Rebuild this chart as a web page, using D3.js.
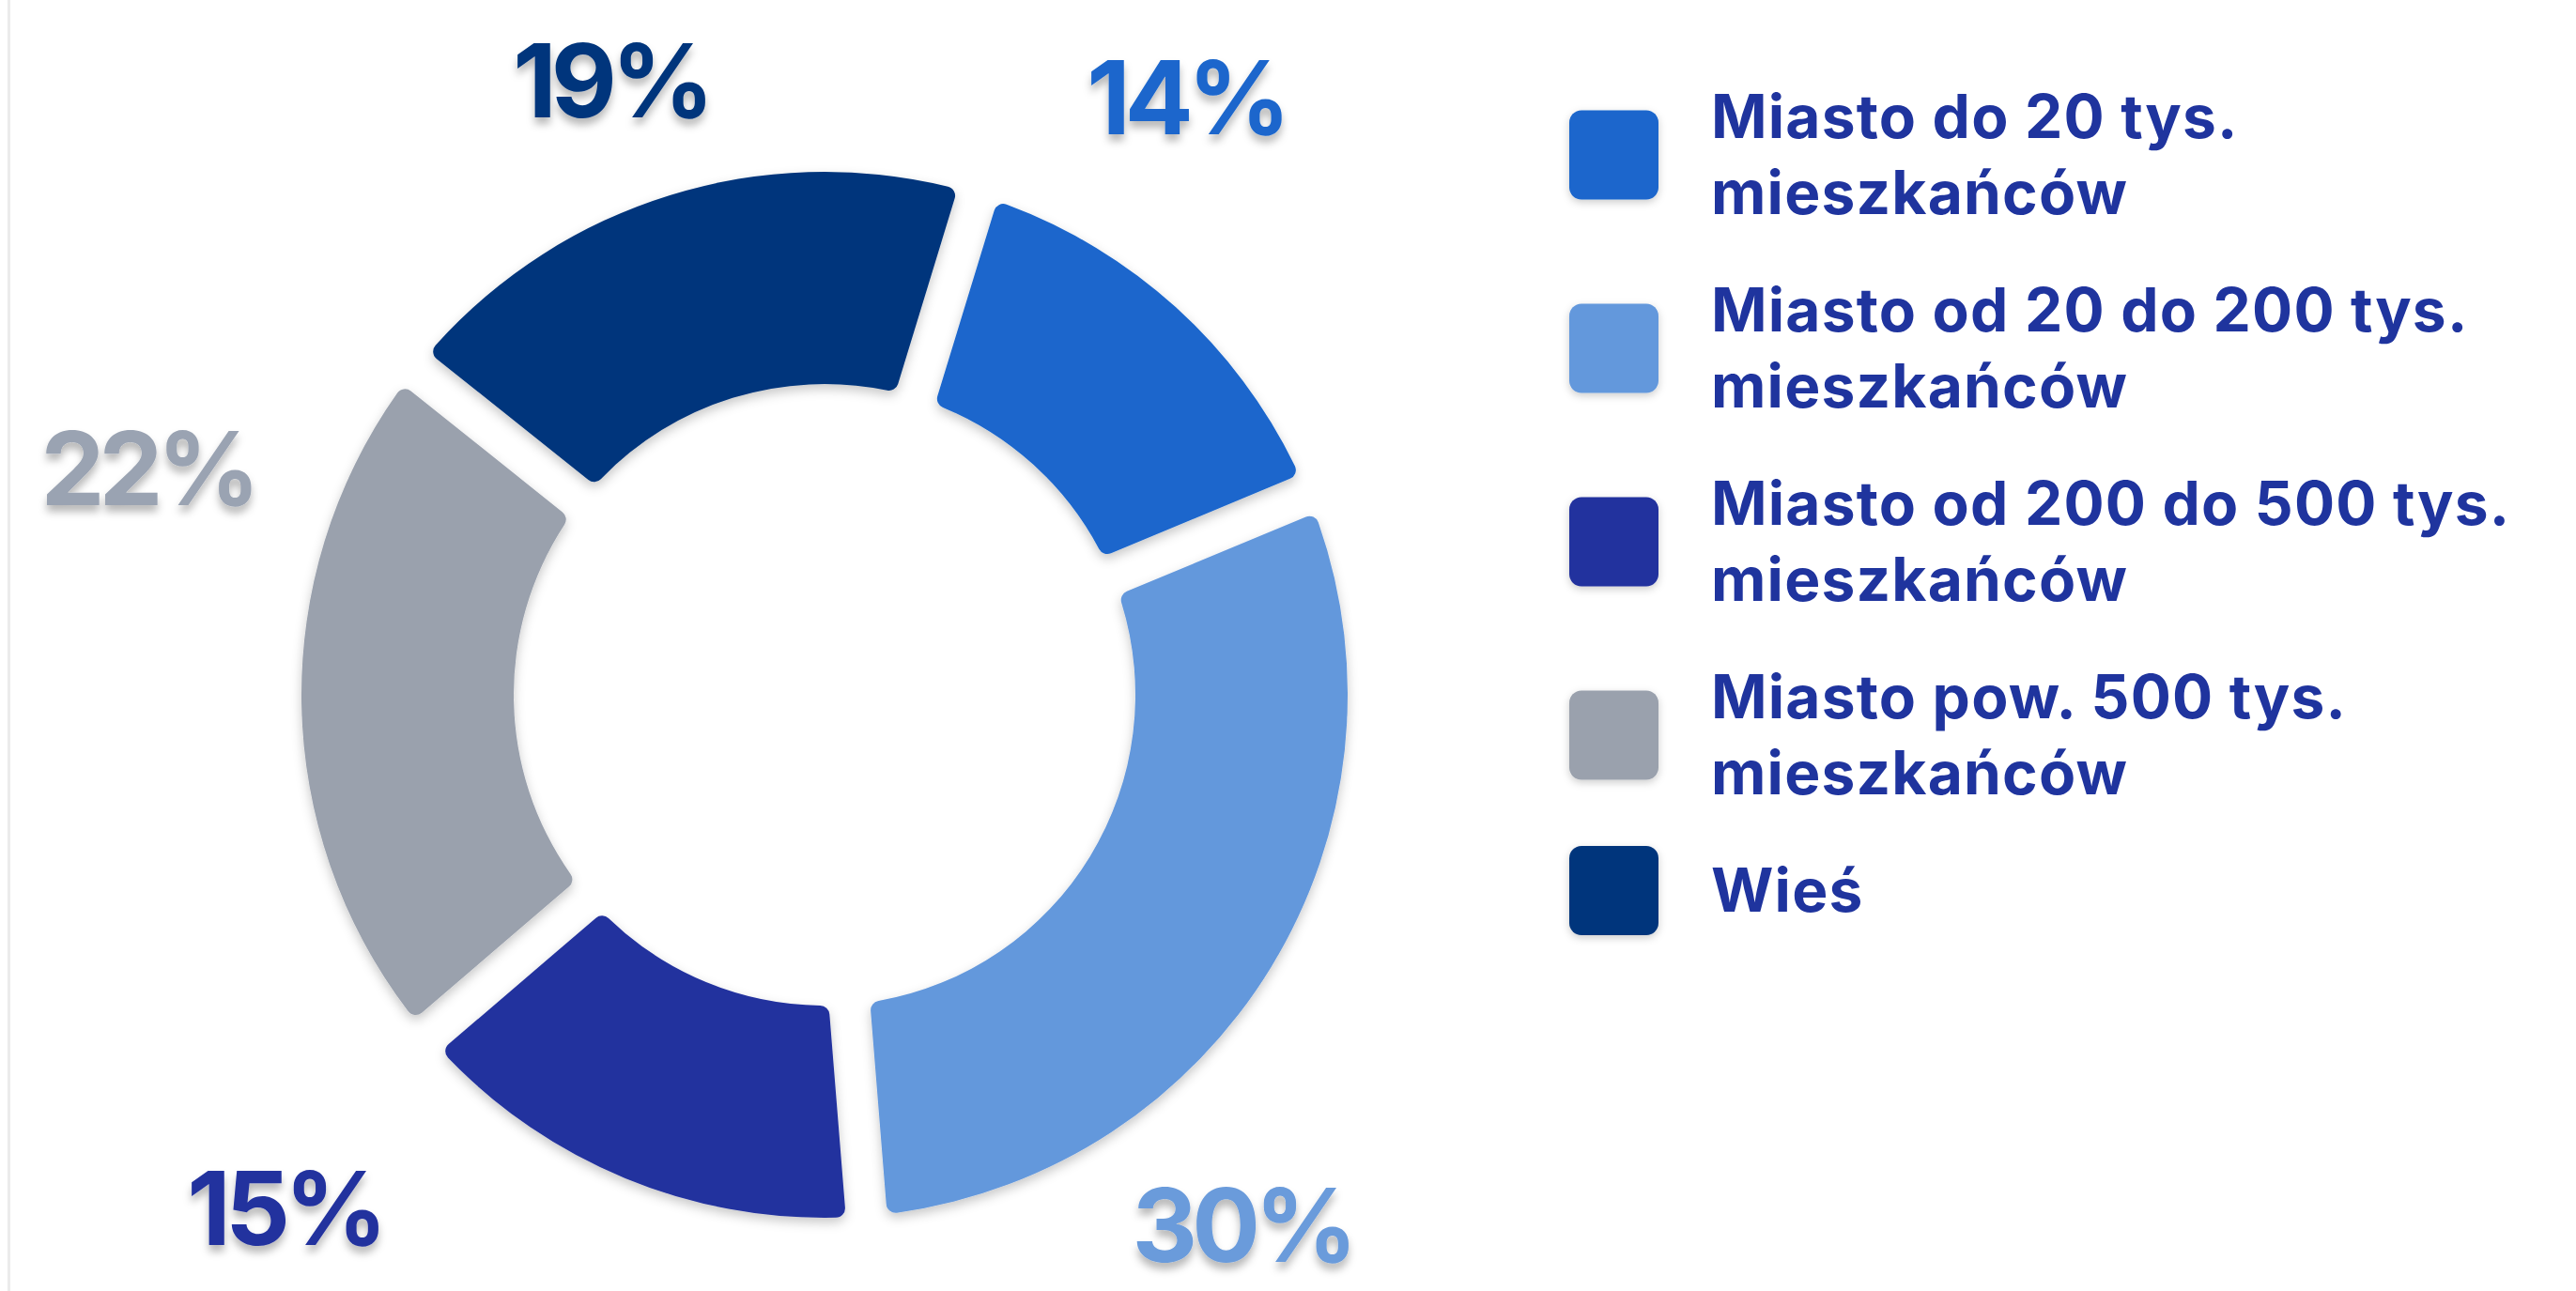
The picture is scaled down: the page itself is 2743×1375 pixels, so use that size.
<!DOCTYPE html>
<html lang="pl">
<head>
<meta charset="utf-8">
<title>Miejsce zamieszkania</title>
<script src="https://cdn.jsdelivr.net/npm/d3@7/dist/d3.min.js"></script>
<style>
  html, body { margin: 0; padding: 0; background: #ffffff; }
  svg { display: block; font-family: Inter, "Noto Sans", sans-serif; }
</style>
</head>
<body>
<svg id="chart" width="2743" height="1375"></svg>
<script>
// Categories, shares (percent) and colours
const categories = [
  "Miasto do 20 tys. mieszkańców",
  "Miasto od 20 do 200 tys. mieszkańców",
  "Miasto od 200 do 500 tys. mieszkańców",
  "Miasto pow. 500 tys. mieszkańców",
  "Wieś"
];
const shares = [14, 30, 15, 22, 19];
const colors = ["#1a66cc", "#6498dc", "#22319e", "#9aa1ad", "#04367b"];
const labelColors = ["#1a66cc", "#6a9bdb", "#22319e", "#9aa3b2", "#04367b"];

// Layout
const W = 2743, H = 1375;
const cx = 878, cy = 740;
const rOuter = 557, rInner = 331;
const startDeg = 17;
const gapPx = 44;
// value labels: angular shift from slice middle (deg) and distance from centre
const labelShiftDeg = [-11, 20.4, 24, 19.5, -2];
const labelRadius = [743, 719, 794, 760, 692];

const svg = d3.select("#chart");
const defs = svg.append("defs");

function shadow(id, dy, sd, op) {
  const f = defs.append("filter").attr("id", id)
    .attr("x", "-20%").attr("y", "-20%").attr("width", "140%").attr("height", "140%");
  f.append("feDropShadow").attr("dx", 0).attr("dy", dy)
    .attr("stdDeviation", sd).attr("flood-color", "#000").attr("flood-opacity", op);
}
shadow("sliceShadow", 5, 6, 0.22);
shadow("labelShadow", 7, 4, 0.28);
shadow("swatchShadow", 3, 4, 0.2);

svg.append("rect").attr("width", W).attr("height", H).attr("fill", "#ffffff");
svg.append("rect").attr("x", 8).attr("y", 0).attr("width", 3).attr("height", H).attr("fill", "#ebebeb");

const rad = Math.PI / 180;
const pie = d3.pie().sort(null).value(d => d.value)
  .startAngle(startDeg * rad).endAngle(startDeg * rad + 2 * Math.PI);

const data = categories.map((c, i) => ({ name: c, value: shares[i], i }));
const arcs = pie(data);

const arc = d3.arc()
  .innerRadius(rInner).outerRadius(rOuter)
  .cornerRadius(10)
  .padRadius(rOuter)
  .padAngle(gapPx / rOuter);

const g = svg.append("g").attr("transform", `translate(${cx},${cy})`);

g.selectAll("path.slice").data(arcs).join("path")
  .attr("class", "slice")
  .attr("d", arc)
  .attr("fill", d => colors[d.data.i])
  .attr("filter", "url(#sliceShadow)");

// value labels around the ring
g.selectAll("text.value").data(arcs).join("text")
  .attr("class", "value")
  .attr("transform", d => {
    const a = (d.startAngle + d.endAngle) / 2 + labelShiftDeg[d.data.i] * rad;
    const r = labelRadius[d.data.i];
    return `translate(${r * Math.sin(a)},${-r * Math.cos(a)})`;
  })
  .attr("text-anchor", "middle")
  .attr("dy", "0.36em")
  .attr("font-size", 108)
  .attr("font-weight", 700)
  .attr("letter-spacing", -6)
  .attr("fill", d => labelColors[d.data.i])
  .attr("filter", "url(#labelShadow)")
  .text(d => d.data.value + "%");

// legend
const legX = 1671, swatch = 95, textX = 1822;
const lineH = 81, itemGap = 44, maxTextW = 900;
const legend = svg.append("g")
  .attr("font-size", 64).attr("font-weight", 700)
  .attr("letter-spacing", 1.2)
  .attr("fill", "#1f349e");

function wrap(label) {
  const probe = legend.append("text").attr("visibility", "hidden");
  const words = label.split(" ");
  const lines = [];
  let cur = "";
  words.forEach(w => {
    const test = cur ? cur + " " + w : w;
    probe.text(test);
    if (probe.node().getComputedTextLength() > maxTextW && cur) {
      lines.push(cur);
      cur = w;
    } else {
      cur = test;
    }
  });
  if (cur) lines.push(cur);
  probe.remove();
  return lines;
}

let yCursor = 84;
categories.forEach((c, i) => {
  const lines = wrap(c);
  const blockH = lines.length * lineH;
  const mid = yCursor + blockH / 2;
  legend.append("rect")
    .attr("x", legX).attr("y", mid - swatch / 2)
    .attr("width", swatch).attr("height", swatch)
    .attr("rx", 13).attr("fill", colors[i])
    .attr("filter", "url(#swatchShadow)");
  const t = legend.append("text").attr("x", textX);
  lines.forEach((ln, k) => {
    t.append("tspan").attr("x", textX)
      .attr("y", yCursor + k * lineH + 63)
      .text(ln);
  });
  yCursor += blockH + itemGap;
});
</script>
</body>
</html>
